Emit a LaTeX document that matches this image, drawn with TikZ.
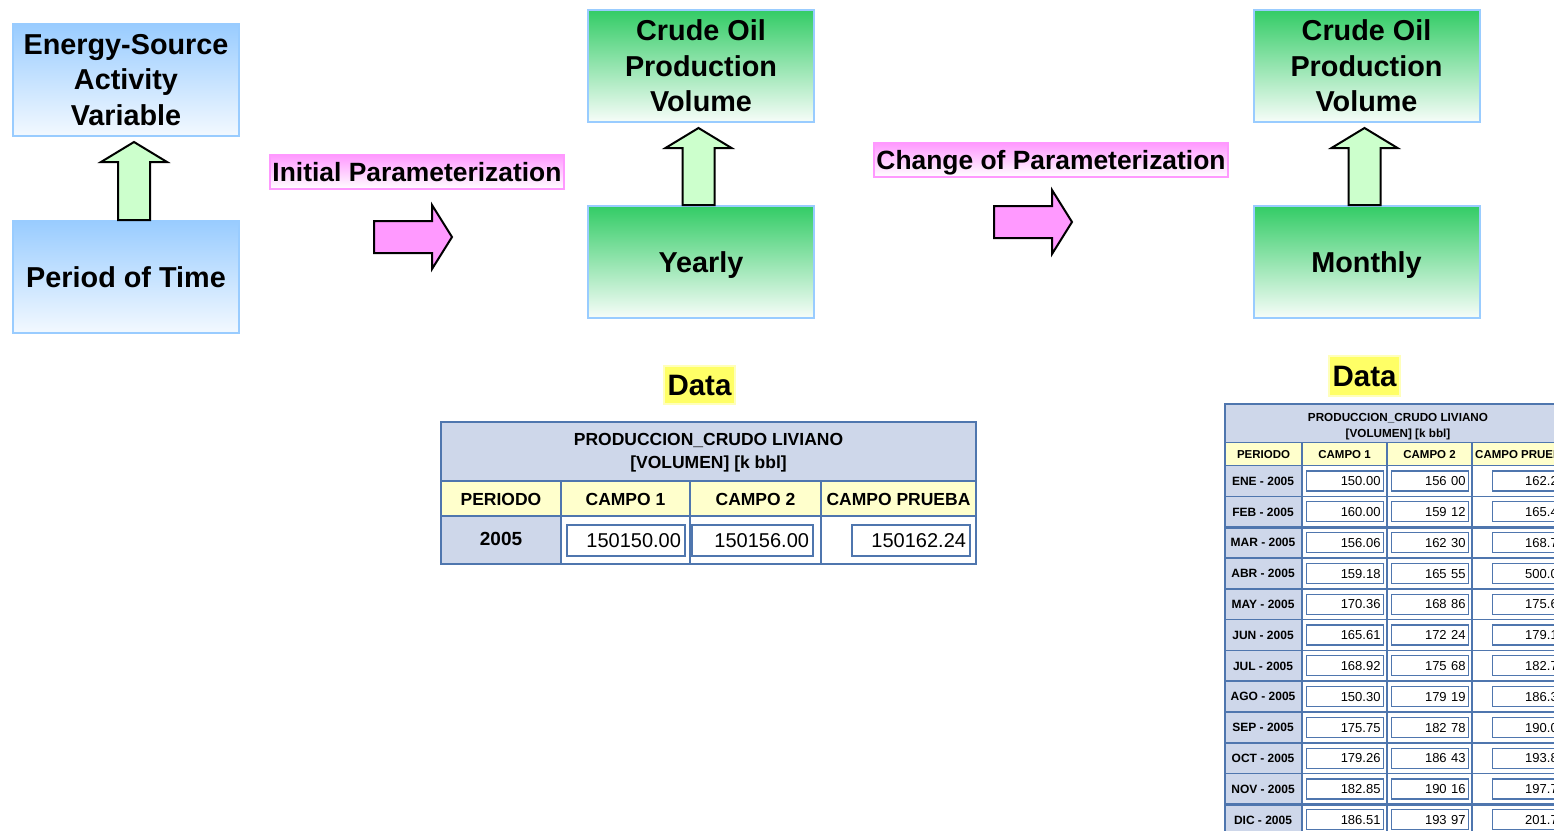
\documentclass[tikz,border=0pt]{standalone}
\usepackage{fontspec}
\setmainfont{Liberation Sans}
\usetikzlibrary{calc}

\definecolor{boxblue}{HTML}{99CCFF}
\definecolor{boxgreen}{HTML}{33CC66}
\definecolor{arrowgreen}{HTML}{CCFFCC}
\definecolor{pinkfill}{HTML}{FF99FF}
\definecolor{datayellow}{HTML}{FFFF66}
\definecolor{tblline}{HTML}{4F76AE}
\definecolor{tblhead}{HTML}{CED7EA}
\definecolor{tblcol}{HTML}{FFFFCC}

\tikzset{
  % single text line whose capitals sit centred in the node (value = cap height)
  oneline/.style={text height=#1, text depth=0pt},
  box/.style={draw=boxblue, line width=2pt, minimum width=226pt, minimum height=112pt,
    inner sep=0pt, align=center, font=\fontsize{28.8}{35.5}\selectfont\bfseries},
  bluebox/.style={box, top color=boxblue, bottom color=boxblue!12},
  greenbox/.style={box, top color=boxgreen, bottom color=boxgreen!4},
  plabel/.style={draw=pinkfill, line width=1.2pt, top color=pinkfill, bottom color=white,
    inner sep=0pt, minimum height=34pt, oneline=18.9pt, font=\fontsize{26.4}{30}\selectfont\bfseries},
  ylabel/.style={draw=datayellow!45!white, line width=1.2pt, fill=datayellow, inner sep=0pt,
    minimum width=71pt, minimum height=38pt, oneline=21.1pt, font=\fontsize{29.5}{32}\selectfont\bfseries},
  garrow/.style={draw=black, line width=2pt, fill=arrowgreen, line join=miter},
  parrow/.style={draw=black, line width=2pt, fill=pinkfill, line join=miter},
  tblgrid/.style={draw=tblline, line width=1.6pt},
  field/.style={draw=tblline, line width=1.2pt, fill=white, inner ysep=0pt, align=right},
  bigcell/.style={font=\fontsize{17.5}{23}\selectfont\bfseries, align=center},
  smallcell/.style={font=\fontsize{11.5}{15.5}\selectfont\bfseries, align=center},
}

% block arrow pointing up from the north side of #1 to just below the south side of #2
\newcommand\greenup[3]{%
  \draw[garrow]
    ($(#1.north)+(#3-16,0)$) -- ($(#2.south)+(#3-16,25)$) -- ($(#2.south)+(#3-33,25)$)
    -- ($(#2.south)+(#3,5)$) -- ($(#2.south)+(#3+33,25)$) -- ($(#2.south)+(#3+16,25)$)
    -- ($(#1.north)+(#3+16,0)$) -- cycle;}

% block arrow pointing right, with its tip at coordinate #1
\newcommand\pinkright[1]{%
  \draw[parrow]
    ($(#1)+(-78,-16)$) -- ($(#1)+(-20,-16)$) -- ($(#1)+(-20,-32)$) -- (#1)
    -- ($(#1)+(-20,32)$) -- ($(#1)+(-20,16)$) -- ($(#1)+(-78,16)$) -- cycle;}

\begin{document}
\begin{tikzpicture}[x=1pt,y=-1pt]
\useasboundingbox (0,0) rectangle (1554,830);
\fill[white] (0,0) rectangle (1554,830);
\begin{scope}
\clip (0,0) rectangle (1554,830);

% ---------- concept boxes ----------
\node[bluebox] (esav) at (126,80) {Energy-Source\\Activity\\Variable};
\node[bluebox, oneline=20.6pt] (pot) at (126,277) {Period of Time};
\greenup{pot}{esav}{8}

\node[greenbox] (crudeA) at (701,66) {Crude Oil\\Production\\Volume};
\node[greenbox, oneline=20.6pt] (yearly) at (701,262) {Yearly};
\greenup{yearly}{crudeA}{-2.5}

\node[greenbox] (crudeB) at (1366.5,66) {Crude Oil\\Production\\Volume};
\node[greenbox, oneline=20.6pt] (monthly) at (1366.5,262) {Monthly};
\greenup{monthly}{crudeB}{-2}

% ---------- parameterization steps ----------
\node[plabel, minimum width=294pt] (initlbl) at (417,172) {Initial Parameterization};
\coordinate (tipA) at (452,237);
\pinkright{tipA}

\node[plabel, minimum width=354pt] (chglbl) at (1051,160) {Change of Parameterization};
\coordinate (tipB) at (1072,222);
\pinkright{tipB}

% ---------- yearly data table ----------
\node[ylabel] (dataA) at (699.5,385) {Data};

\fill[tblhead] (441,422) rectangle (976,481);
\fill[tblcol] (441,481) rectangle (976,516);
\fill[tblhead] (441,516) rectangle (561,564);
\draw[tblgrid] (441,422) rectangle (976,564);
\draw[tblgrid] (441,481) -- (976,481);
\draw[tblgrid] (441,516) -- (976,516);
\foreach \x in {561,690,821} \draw[tblgrid] (\x,481) -- (\x,564);

\node[bigcell] (ytitle) at (708.5,453) {PRODUCCION\_CRUDO LIVIANO\\{}[VOLUMEN] [k bbl]};
\node[bigcell, oneline=12.5pt] (yh1) at (501,499) {PERIODO};
\node[bigcell, oneline=12.5pt] (yh2) at (625.5,499) {CAMPO 1};
\node[bigcell, oneline=12.5pt] (yh3) at (755.5,499) {CAMPO 2};
\node[bigcell, oneline=12.5pt] (yh4) at (898.5,499) {CAMPO PRUEBA};
\node[oneline=13.6pt, font=\fontsize{19}{22}\selectfont\bfseries] (yrow) at (501,539) {2005};

\begin{scope}[every node/.style={field, oneline=14.3pt, font=\fontsize{20}{24}\selectfont, inner xsep=4pt, minimum height=31pt}]
  \node[text width=110pt] (yv1) at (626,540.5) {150150.00};
  \node[text width=113pt] (yv2) at (752.5,540.5) {150156.00};
  \node[text width=110pt] (yv3) at (911,540.5) {150162.24};
\end{scope}

% ---------- monthly data table ----------
\node[ylabel, minimum height=40pt] (dataB) at (1364.5,376) {Data};

\fill[tblhead] (1225,404) rectangle (1580,442.5);
\fill[tblcol] (1225,442.5) rectangle (1580,465.6);
\fill[tblhead] (1225,465.6) rectangle (1302,840);
\draw[tblgrid] (1225,840) -- (1225,404) -- (1580,404);
\draw[tblgrid] (1225,442.5) -- (1580,442.5);
\foreach \i in {0,...,12} {
  \pgfmathsetmacro\yb{465.6+\i*30.8}
  \draw[tblgrid] (1225,\yb) -- (1580,\yb);
}
\draw[tblgrid, line width=2.6pt] (1225,527.2) -- (1580,527.2);
\draw[tblgrid, line width=2.6pt] (1225,804.4) -- (1580,804.4);
\foreach \x in {1302,1387,1472} \draw[tblgrid] (\x,442.5) -- (\x,840);

\node[smallcell, font=\fontsize{11.7}{16}\selectfont\bfseries] (mtitle) at (1398,426.5) {PRODUCCION\_CRUDO LIVIANO\\{}[VOLUMEN] [k bbl]};
\node[smallcell, oneline=8.2pt] (mh1) at (1263.5,454) {PERIODO};
\node[smallcell, oneline=8.2pt] (mh2) at (1344.5,454) {CAMPO 1};
\node[smallcell, oneline=8.2pt] (mh3) at (1429.5,454) {CAMPO 2};
\node[smallcell, oneline=8.2pt, anchor=west, inner sep=0pt] (mh4) at (1475,454) {CAMPO PRUEBA};

\foreach \i/\m/\a/\b/\c in {
  1/ENE/150.00/{156 00}/162.2, 2/FEB/160.00/{159 12}/165.4,
  3/MAR/156.06/{162 30}/168.7, 4/ABR/159.18/{165 55}/500.0,
  5/MAY/170.36/{168 86}/175.6, 6/JUN/165.61/{172 24}/179.1,
  7/JUL/168.92/{175 68}/182.7, 8/AGO/150.30/{179 19}/186.3,
  9/SEP/175.75/{182 78}/190.0, 10/OCT/179.26/{186 43}/193.8,
  11/NOV/182.85/{190 16}/197.7, 12/DIC/186.51/{193 97}/201.7} {
  \pgfmathsetmacro\yc{465.6+(\i-0.5)*30.8}
  \node[oneline=8.6pt, font=\fontsize{12}{14}\selectfont\bfseries] (mlab\i) at (1263,\yc) {\m\ - 2005};
  \node[field, oneline=9.3pt, font=\fontsize{13}{15}\selectfont, inner xsep=3pt, minimum height=20pt, text width=71pt] (mca\i) at (1345,\yc) {\a};
  \node[field, oneline=9.3pt, font=\fontsize{13}{15}\selectfont, inner xsep=3pt, minimum height=20pt, text width=71pt] (mcb\i) at (1430,\yc) {\b};
  \node[field, minimum height=20pt, minimum width=77pt, inner sep=0pt] (mcc\i) at (1531,\yc) {};
  \node[oneline=9.3pt, font=\fontsize{13}{15}\selectfont, anchor=west, inner sep=0pt] (mcv\i) at (1525,\yc) {\c};
}
\end{scope}
\end{tikzpicture}
\end{document}
